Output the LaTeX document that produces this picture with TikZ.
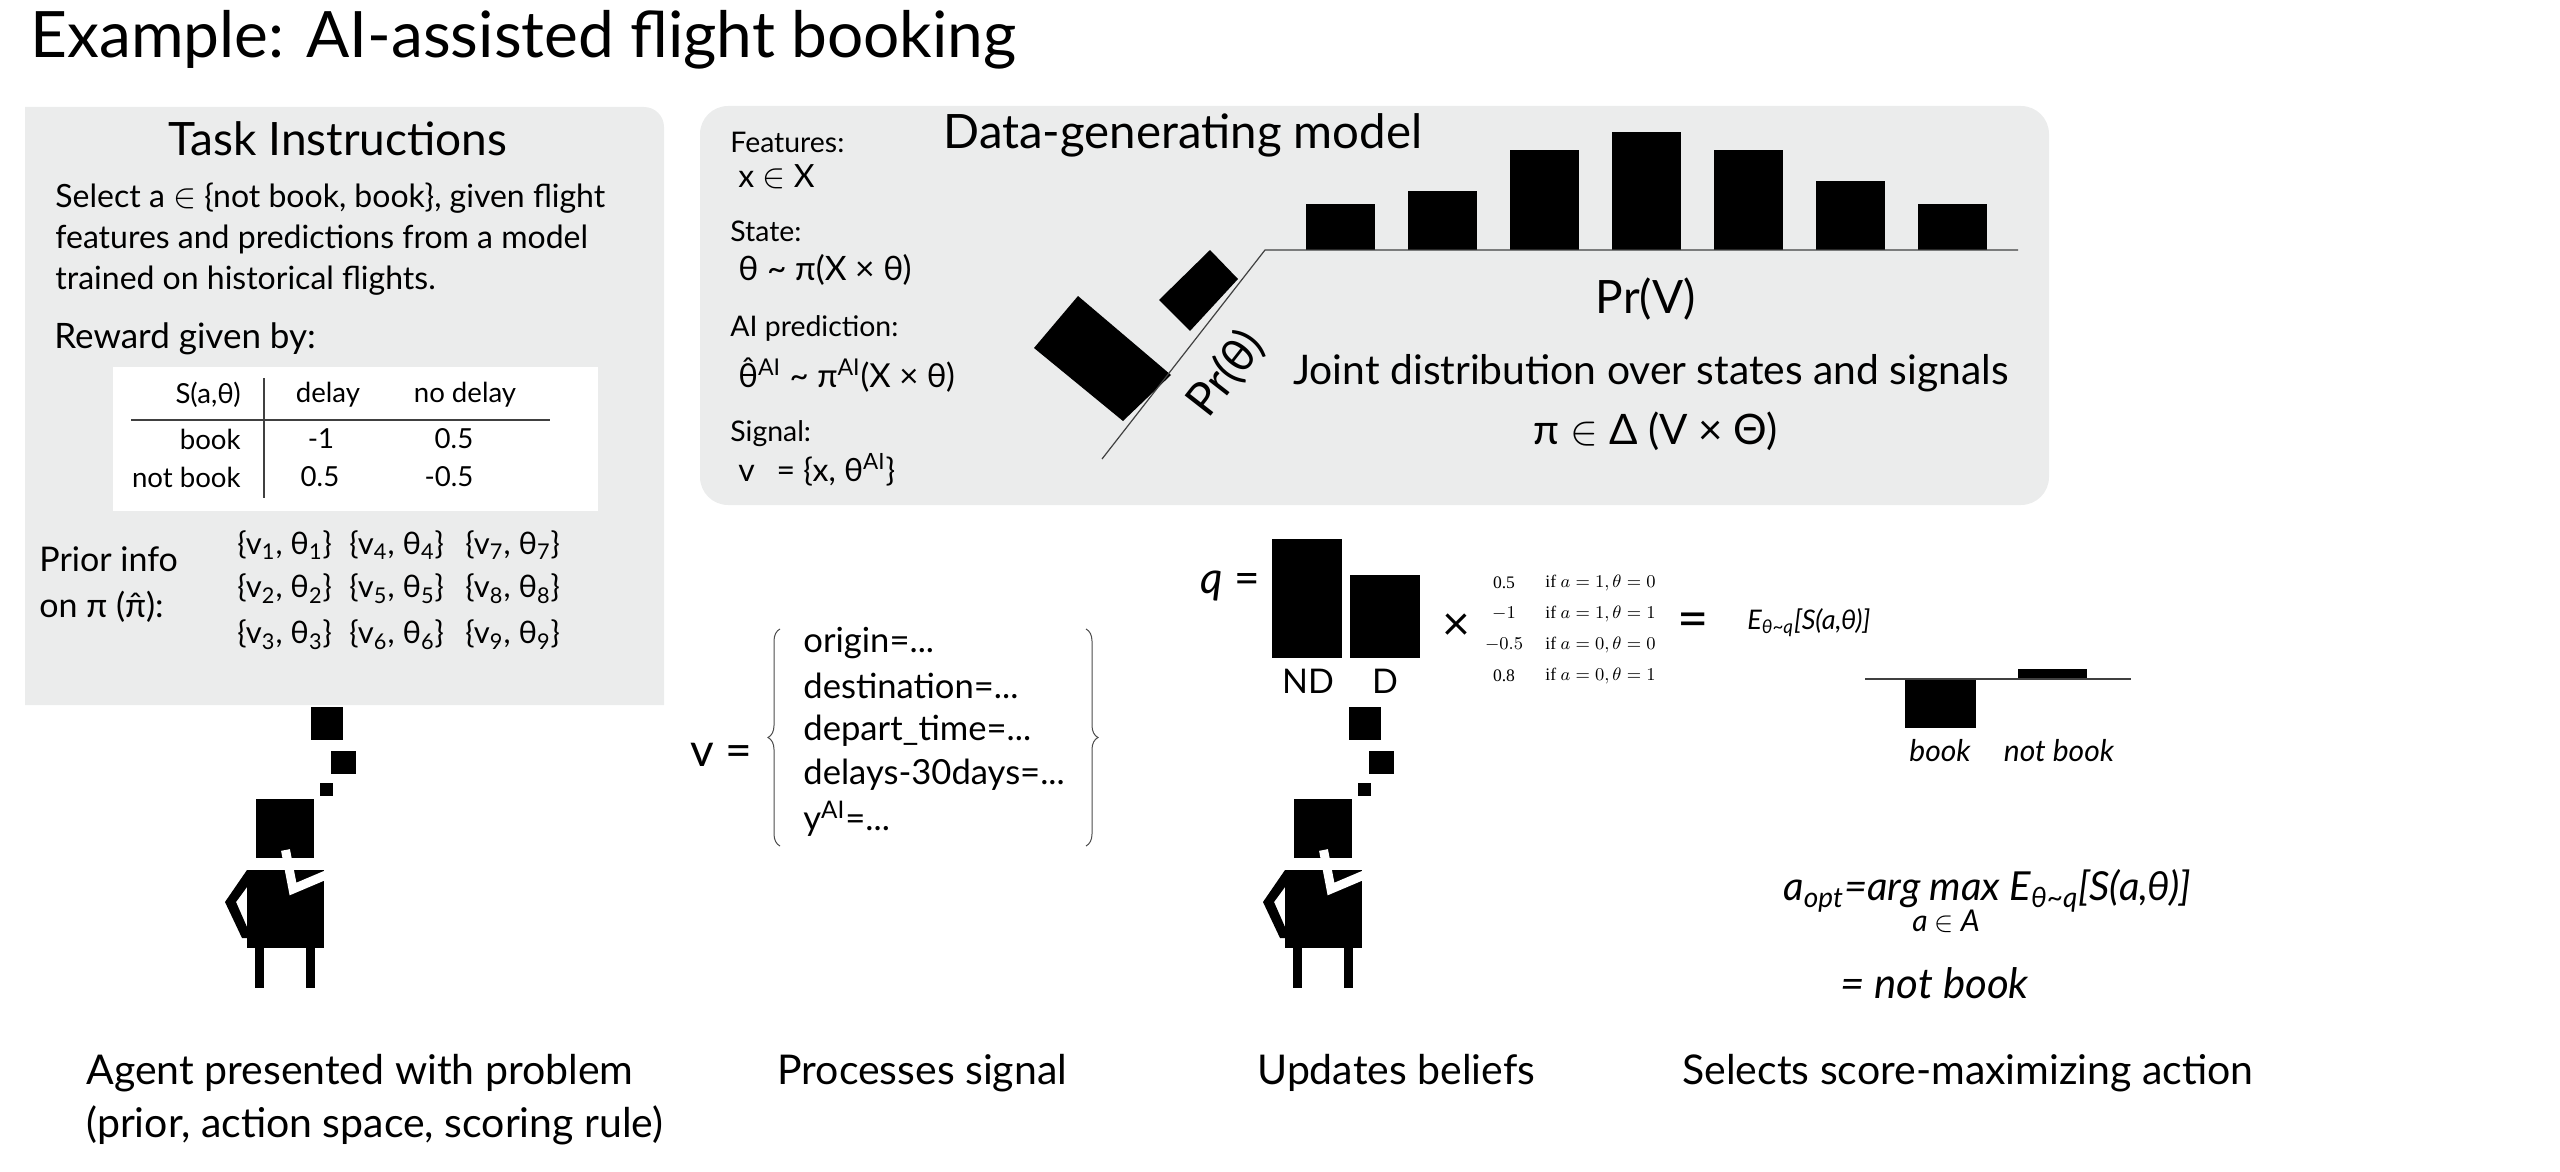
\documentclass[tikz,border=0pt]{standalone}
\usepackage{fontspec}
\usepackage{amsmath}
\setmainfont{Lato}
\newfontfamily\casesfont{Liberation Serif}
\usetikzlibrary{positioning,decorations.pathreplacing}
\definecolor{panelgray}{HTML}{EBECEC}
\newcommand{\fsz}[1]{\fontsize{#1}{#1}\selectfont}
\newcommand{\fielddots}{...}
\tikzset{
    txt/.style={anchor=west,inner sep=0pt,font=\fsz{14.2}},
    ctr/.style={inner sep=0pt,font=\fsz{14}},
    caption/.style={anchor=west,inner sep=0pt,font=\fsz{20.5}},
    tabletxt/.style={inner sep=0pt,font=\fsz{13.8}},
    setlabel/.style={anchor=west,inner sep=0pt,font=\fsz{15.5}},
    casestxt/.style={inner sep=0pt,font=\casesfont\fsz{8.8}},
    thinline/.style={draw=black!75,line width=0.6pt}
}

\begin{document}
\begin{tikzpicture}[x=0.5pt,y=-0.5pt]
    \useasboundingbox (0,0) rectangle (2560,1172);
    \node[anchor=west,inner sep=0pt,font=\fsz{32}] (title) at (30,40) {Example: AI-assisted flight booking};

    % Panels
    \fill[panelgray] (25,705) -- (25,107) [rounded corners=10pt] -- (664,107) [sharp corners] -- (664,705) -- cycle;
    \fill[panelgray,rounded corners=14pt] (700,106) rectangle (2049,505);
    \fill[white] (113,367) rectangle (598,511);

    % Task instructions
    \node[ctr,font=\fsz{23}] (taskhead) at (338,139) {Task Instructions};
    \node[txt,align=left,font=\fontsize{16}{20.4}\selectfont] (taskbody) at (55,239) {Select a $\in$ \{not book, book\}, given flight\\features and predictions from a model\\trained on historical flights.};
    \node[txt,font=\fsz{17.5}] (rewardhead) at (54,339) {Reward given by:};

    % Reward table
    \draw[thinline] (131,420) -- (550,420);
    \draw[thinline] (264,378) -- (264,498);
    \foreach \x/\y/\lab/\n in {241/395/{S(a,θ)}/corner, 241/439/book/book, 241/477/not book/notbook} {
        \node[tabletxt,anchor=east] (row\n) at (\x,\y) {\lab};
    }
    \foreach \x/\y/\lab/\n in {328/395/delay/a, 465/395/no delay/b, 321/439/-1/c, 454/439/0.5/d, 320/477/0.5/e, 449/477/-0.5/f} {
        \node[tabletxt] (cell\n) at (\x,\y) {\lab};
    }

    % Prior info
    \node[txt,align=left,font=\fontsize{17}{23}\selectfont] (priorinfo) at (39,585) {Prior info\\on π (π̂):};
    \foreach \i/\x/\y in {1/237/545, 2/237/589, 3/237/635, 4/349/545, 5/349/589, 6/349/635, 7/465/545, 8/465/589, 9/465/635} {
        \node[setlabel] (prior\i) at (\x,\y) {\{v\textsubscript{\i}, θ\textsubscript{\i}\}};
    }

    % Agents with thought squares
    \foreach \dx in {0,1038} {
        \begin{scope}[xshift=\dx*0.5]
            \fill[black] (311,707) rectangle (343,740);
            \fill[black] (331,751) rectangle (356,774);
            \fill[black] (320,783) rectangle (333,796);
            \fill[black] (256,799) rectangle (314,858);
            \fill[black] (247,870) rectangle (324,948);
            \fill[black] (255,948) rectangle (264,988);
            \fill[black] (306,948) rectangle (315,988);
            \fill[black] (247,870) -- (225,902) -- (242,938) -- (247,938) -- (247,927) -- (236,902) -- (247,887) -- cycle;
            \draw[white,line width=4.5pt,miter limit=10] (285.5,850) -- (293,889) -- (326,875);
        \end{scope}
    }

    % Data-generating model
    \node[ctr,font=\fsz{23.7}] (modelhead) at (1183,135) {Data-generating model};
    \node[txt] (features) at (730,142) {Features:};
    \node[txt,font=\fsz{16}] (featval) at (738,177) {x $\in$ X};
    \node[txt] (state) at (730,231) {State:};
    \node[txt,font=\fsz{16.8}] (stateval) at (738,270) {θ \textasciitilde{} π(X × θ)};
    \node[txt] (aipred) at (730,328) {AI prediction:};
    \node[txt,font=\fsz{16.5}] (aival) at (738,375) {θ̂\textsuperscript{AI} \textasciitilde{} π\textsuperscript{AI}(X × θ)};
    \node[txt] (signal) at (730,434) {Signal:};
    \node[txt,font=\fsz{16}] (signalval) at (738,470) {v \ \,= \{x, θ\textsuperscript{AI}\}};

    % Marginal over signals
    \foreach \x/\y in {1306/204, 1408/191, 1510/150, 1612/132, 1714/150, 1816/181, 1918/204} {
        \fill[black] (\x,\y) rectangle (\x+69,250);
    }
    % Marginal over states
    \fill[black] (1210,250) -- (1238,279) -- (1190,331) -- (1159,300) -- cycle;
    \fill[black] (1078,296) -- (1171,375) -- (1123,421) -- (1034,348) -- cycle;
    \coordinate (corner) at (1265,250);
    \coordinate (axisright) at (2018,250);
    \coordinate (axisleft) at (1102,459);
    \draw[thinline] (axisleft) -- (corner) -- (axisright);
    \node[ctr,font=\fsz{23},rotate=52] (prstate) at (1226,374) {Pr(θ)};
    \node[ctr,font=\fsz{23}] (prsignal) at (1646,299) {Pr(V)};
    \node[ctr,font=\fsz{20.4}] (joint) at (1651,373) {Joint distribution over states and signals};
    \node[ctr,font=\fsz{21}] (jointval) at (1656,431) {π $\in$ Δ (V × Θ)};

    % Signal
    \node[txt,font=\fsz{23}] (vequals) at (690,755) {v =};
    \coordinate (braceAb) at (780,846);
    \coordinate (braceAt) at (780,629);
    \coordinate (braceBt) at (1086,629);
    \coordinate (braceBb) at (1086,846);
    \draw[black!70,line width=0.5pt,decorate,decoration={brace,amplitude=6pt}] (braceAb) -- (braceAt);
    \draw[black!70,line width=0.5pt,decorate,decoration={brace,amplitude=6pt}] (braceBt) -- (braceBb);
    \foreach \y/\lab/\n in {643/origin=\fielddots/a, 686/destination=\fielddots/b, 731/depart\_time=\fielddots/c, 775/delays-30days=\fielddots/d, 819/y\textsuperscript{AI}=\fielddots/e} {
        \node[txt,font=\fsz{17.3}] (field\n) at (803,\y) {\lab};
    }

    % Belief update
    \node[txt,font=\fsz{22}] (qequals) at (1200,586) {\textit{q} =};
    \fill[black] (1272,539) rectangle (1342,658);
    \fill[black] (1350,575) rectangle (1420,658);
    \node[ctr,font=\fsz{17}] (nd) at (1308,681) {ND};
    \node[ctr,font=\fsz{17}] (dd) at (1385,681) {D};
    \node[ctr,font=\fsz{24}] (times) at (1456,627) {×};
    \foreach \y/\val/\cond/\n in {583/0.5/{$a=1,\theta=0$}/a, 614/$-1$/{$a=1,\theta=1$}/b, 645/$-0.5$/{$a=0,\theta=0$}/c, 676/0.8/{$a=0,\theta=1$}/d} {
        \node[casestxt] (caseval\n) at (1504,\y) {\val};
        \node[casestxt,anchor=west] (casecond\n) at (1545,\y) {if \cond};
    }
    \node[ctr,font=\fsz{27}] (equals) at (1693,625) {=};
    \node[txt,font=\itshape\fsz{13.5}] (expect) at (1747,623) {E\textsubscript{θ\textasciitilde q}[S(a,θ)]};

    % Expected scores
    \fill[black] (1905,679) rectangle (1976,728);
    \fill[black] (2018,669) rectangle (2087,679);
    \coordinate (scoreleft) at (1865,679);
    \coordinate (scoreright) at (2131,679);
    \draw[thinline] (scoreleft) -- (scoreright);
    \node[ctr,font=\itshape\fsz{15}] (bookbar) at (1940,751) {book};
    \node[ctr,font=\itshape\fsz{15}] (notbookbar) at (2059,751) {not book};

    % Selected action
    \node[txt,font=\itshape\fsz{20}] (aopt) at (1783,891) {a\textsubscript{opt}=arg max E\textsubscript{θ\textasciitilde q}[S(a,θ)]};
    \node[ctr,font=\itshape\fsz{15}] (argset) at (1946,921) {a $\in$ A};
    \node[txt,font=\itshape\fsz{21}] (result) at (1840,983) {= not book};

    % Captions
    \node[caption] (capa) at (86,1073) {Agent presented with problem};
    \node[caption] (capb) at (86,1125) {(prior, action space, scoring rule)};
    \node[caption] (capc) at (777,1073) {Processes signal};
    \node[caption] (capd) at (1257,1073) {Updates beliefs};
    \node[caption] (cape) at (1682,1073) {Selects score-maximizing action};
\end{tikzpicture}
\end{document}
